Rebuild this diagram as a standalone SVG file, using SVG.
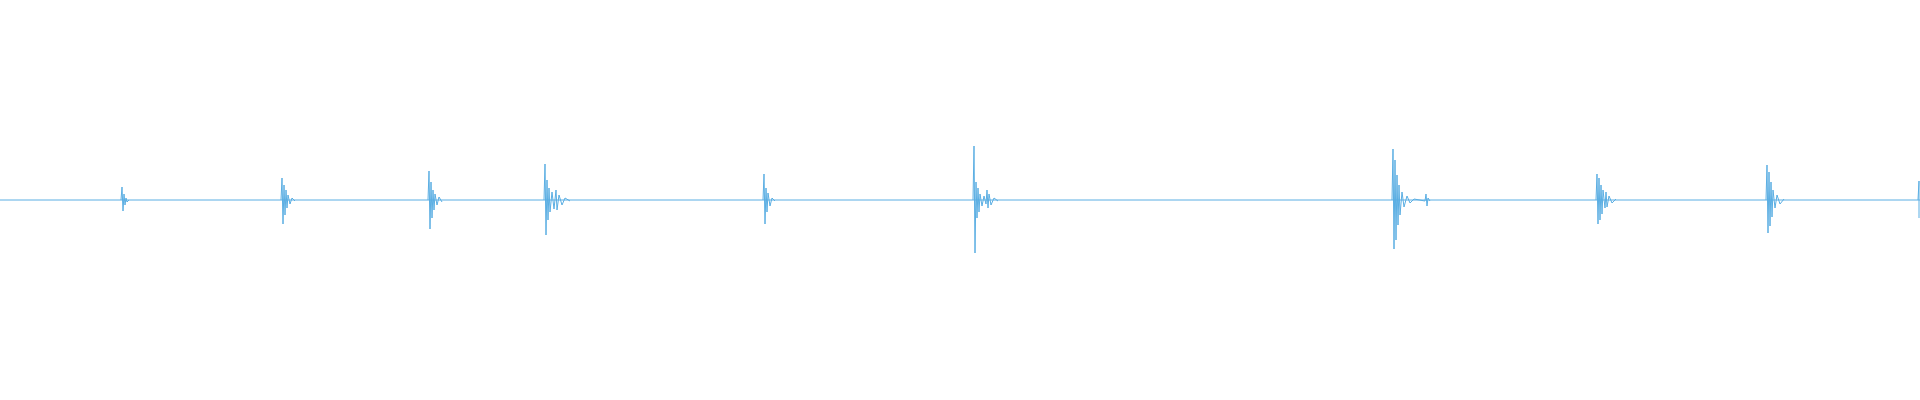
<svg xmlns="http://www.w3.org/2000/svg" width="1920" height="400" viewBox="0 0 1920 400">
<style>.w{fill:none;stroke:#5aaee3;stroke-width:1}</style>
<rect width="1920" height="400" fill="#fff"/>
<g id="waveform">
<line class="w" x1="0" y1="200" x2="1920" y2="200"/>
<path class="w" d="M121,200 L122,187 L123,211 L124,194 L125,205 L126,198 L127,202 L129,200"/>
<path class="w" d="M281,200 L282,178 L283,224 L284,185 L285,215 L286,190 L287,208 L288,195 L290,204 L292,198 L295,201"/>
<path class="w" d="M428,200 L429,171 L430,229 L431,182 L432,218 L433,190 L434,210 L435,194 L437,205 L439,197 L442,202"/>
<path class="w" d="M544,200 L545,164 L546,235 L547,180 L548,220 L549,188 L550,212 L552,192 L554,209 L556,190 L557,210 L559,195 L562,205 L565,198 L570,201"/>
<path class="w" d="M763,200 L764,174 L765,224 L766,188 L767,212 L768,193 L770,206 L772,198 L775,201"/>
<path class="w" d="M973,200 L974,146 L975,253 L976,182 L977,218 L978,188 L979,212 L980,194 L982,206 L984,196 L986,204 L987,190 L988,208 L989,194 L991,205 L994,198 L998,201"/>
<path class="w" d="M1392,200 L1393,149 L1394,249 L1395,160 L1396,240 L1397,175 L1398,225 L1399,185 L1400,215 L1402,192 L1404,207 L1407,196 L1410,203 L1414,199 L1425,201 L1426,194 L1427,206 L1428,198 L1430,201"/>
<path class="w" d="M1596,200 L1597,174 L1598,224 L1599,178 L1600,220 L1601,185 L1602,214 L1603,190 L1605,208 L1606,192 L1607,207 L1609,196 L1612,203 L1616,199"/>
<path class="w" d="M1766,200 L1767,165 L1768,233 L1769,172 L1770,226 L1771,182 L1772,217 L1773,190 L1775,208 L1777,195 L1780,204 L1784,199"/>
<path class="w" d="M1918,200 L1919,181 L1919,218"/>
</g>
</svg>
